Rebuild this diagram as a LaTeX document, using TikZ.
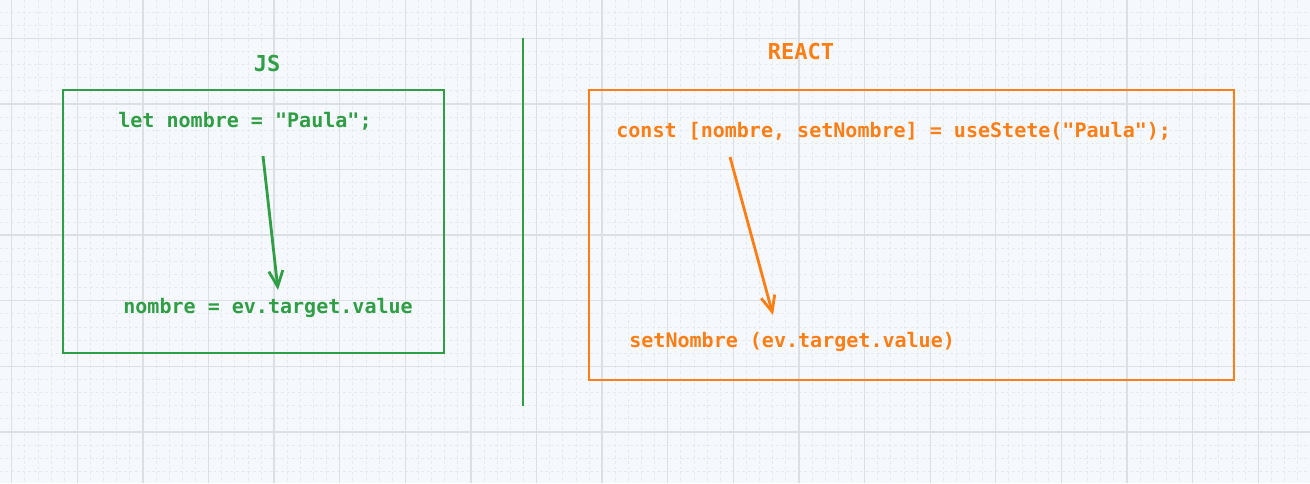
\documentclass[tikz,border=0pt]{standalone}
\usepackage{fontspec}
\setmonofont{DejaVu Sans Mono}
\usetikzlibrary{arrows.meta,positioning}
\definecolor{jsgreen}{HTML}{2F9E44}
\definecolor{reactorange}{HTML}{FD7E14}
\definecolor{paper}{HTML}{F5F8FC}
\definecolor{gridmajor}{HTML}{DCE0E5}
\definecolor{gridminor}{HTML}{E6EAEF}

\begin{document}
\begin{tikzpicture}[x=0.02cm,y=-0.02cm]
            \tikzstyle{code}=[font=\ttfamily\bfseries\fontsize{11.4}{13}\selectfont, inner sep=0pt, anchor=west]
            \tikzstyle{title}=[font=\ttfamily\bfseries\fontsize{12.5}{14}\selectfont, inner sep=0pt]
            \tikzstyle{frame}=[line width=1.4pt]
            \tikzstyle{connect}=[line width=1.6pt, -{Straight Barb[length=9pt,width=8pt,line width=1.6pt]}]
            \useasboundingbox (0,0) rectangle (1310,483);
            % background grid
            \fill[paper] (0,0) rectangle (1310,483);
            \foreach \k in {0,...,100}
                \draw[gridminor, line width=0.4pt, dash pattern=on 1.6pt off 1.6pt] ({-1.42+13.12*\k},0) -- ++(0,483);
            \foreach \k in {0,...,37}
                \draw[gridminor, line width=0.4pt, dash pattern=on 1.6pt off 1.6pt] (0,{-1.06+13.12*\k}) -- ++(1310,0);
            \foreach \k in {0,...,20}
                \draw[gridmajor, line width=0.7pt] ({11.7+65.6*\k},0) -- ++(0,483);
            \foreach \k in {0,...,7}
                \draw[gridmajor, line width=0.7pt] (0,{-27.3+65.6*\k}) -- ++(1310,0);

            % JS side
            \node[title, text=jsgreen] (JS) at (267,64){JS};
            \draw[frame, jsgreen] (63,90) rectangle (444,353);
            \node[code, text=jsgreen] (jsdecl) at (118,121){let nombre = "Paula";};
            \node[code, text=jsgreen] (jsset) at (123,308){nombre = ev.target.value};
            \coordinate (jsfrom) at (263,156);
            \coordinate (jsto) at (278,290);
            \draw[connect, jsgreen] (jsfrom) -- (jsto);

            % divider
            \coordinate (divtop) at (523,38);
            \coordinate (divbot) at (523,406);
            \draw[jsgreen, line width=1.6pt] (divtop) -- (divbot);

            % React side
            \node[title, text=reactorange] (REACT) at (801,52){REACT};
            \draw[frame, reactorange] (589,90) rectangle (1234,380);
            \node[code, text=reactorange] (rdecl) at (616,131){const [nombre, setNombre] = useStete("Paula");};
            \node[code, text=reactorange] (rset) at (629,342){setNombre (ev.target.value)};
            \coordinate (rfrom) at (730,157);
            \coordinate (rto) at (773,315);
            \draw[connect, reactorange] (rfrom) -- (rto);
\end{tikzpicture}
\end{document}
